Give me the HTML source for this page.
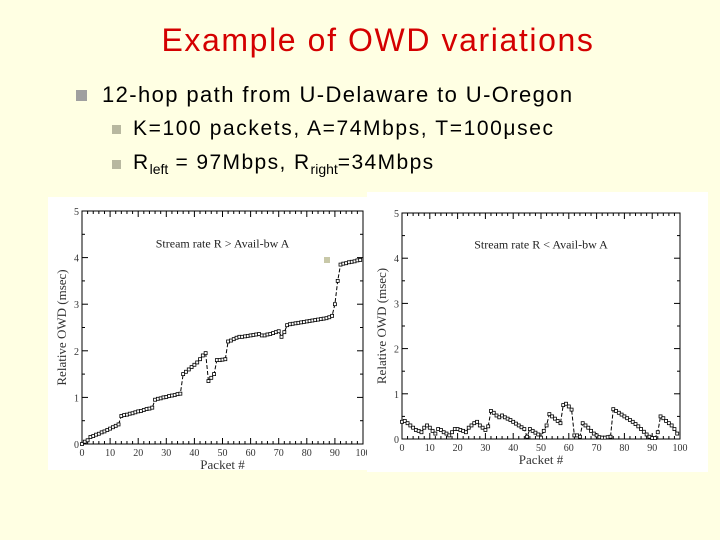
<!DOCTYPE html>
<html><head><meta charset="utf-8"><style>
body{margin:0;width:720px;height:540px;background:#FFFFE3;position:relative;overflow:hidden;font-family:"Liberation Sans",sans-serif}
.t{position:absolute;left:0;width:756px;text-align:center;top:22px;font-size:32px;letter-spacing:1.6px;color:#D40000}
.b{position:absolute;color:#000;font-size:22px;white-space:nowrap}
.sq{position:absolute;background:#A0A0A0}
svg{position:absolute;left:0;top:0}
</style></head><body>
<div class="t">Example of OWD variations</div>
<div class="sq" style="left:76px;top:90px;width:11px;height:11px"></div>
<div class="b" style="left:102px;top:82px;letter-spacing:1.4px">12-hop path from U-Delaware to U-Oregon</div>
<div class="sq" style="left:112px;top:125px;width:9px;height:9px;background:#B8B8A0"></div>
<div class="b" style="left:133px;top:117px;font-size:21px;letter-spacing:1.6px">K=100 packets, A=74Mbps, T=100μsec</div>
<div class="sq" style="left:112px;top:160px;width:9px;height:9px;background:#B8B8A0"></div>
<div class="b" style="left:133px;top:151px;font-size:21px;letter-spacing:1.4px">R<sub style="font-size:14px;letter-spacing:0">left</sub> = 97Mbps, R<sub style="font-size:14px;letter-spacing:0">right</sub>=34Mbps</div>
<svg id="s" width="720" height="540"></svg>
<script>
const packets=[...Array(100).keys()];
const leftOwd=[0,0.05,0.08,0.15,0.17,0.2,0.22,0.25,0.27,0.3,0.33,0.36,0.39,0.42,0.6,0.62,0.63,0.65,0.66,0.68,0.7,0.71,0.73,0.75,0.76,0.78,0.95,0.97,0.98,1.0,1.01,1.03,1.04,1.05,1.07,1.08,1.5,1.55,1.6,1.65,1.7,1.75,1.82,1.9,1.95,1.35,1.42,1.5,1.8,1.8,1.81,1.82,2.2,2.22,2.25,2.28,2.3,2.3,2.31,2.32,2.33,2.34,2.35,2.36,2.33,2.33,2.35,2.36,2.38,2.4,2.42,2.3,2.4,2.55,2.57,2.58,2.59,2.6,2.61,2.62,2.63,2.64,2.65,2.66,2.67,2.68,2.69,2.7,2.72,2.75,3.0,3.5,3.85,3.87,3.88,3.9,3.91,3.92,3.94,3.95];
const rightOwd=[0.38,0.4,0.35,0.3,0.25,0.2,0.18,0.15,0.25,0.3,0.25,0.18,0.12,0.22,0.2,0.15,0.12,0.08,0.15,0.22,0.22,0.2,0.18,0.15,0.25,0.3,0.35,0.38,0.3,0.25,0.2,0.28,0.62,0.58,0.52,0.48,0.52,0.48,0.45,0.42,0.38,0.34,0.3,0.26,0.22,0.05,0.22,0.18,0.14,0.1,0.03,0.18,0.3,0.55,0.5,0.45,0.4,0.35,0.75,0.78,0.72,0.65,0.08,0.08,0.05,0.35,0.3,0.25,0.18,0.12,0.08,0.04,0.03,0.03,0.04,0.05,0.66,0.62,0.58,0.54,0.5,0.46,0.42,0.38,0.33,0.28,0.22,0.16,0.1,0.05,0.02,0.02,0.15,0.5,0.46,0.4,0.35,0.3,0.22,0.12];
const xTicks=[0,10,20,30,40,50,60,70,80,90,100];
const yTicks=[0,1,2,3,4,5];
const NS="http://www.w3.org/2000/svg";
const svg=document.getElementById('s');
function mk(t,a,p){const e=document.createElementNS(NS,t);for(const k in a)e.setAttribute(k,a[k]);(p||svg).appendChild(e);return e;}
function chart(name,box,plot,data,label){
  const g=mk('g',{});
  
  
  const bg=mk('rect',{x:box[0],y:box[1],width:box[2],height:box[3],fill:'#fff'},g);
  
  
  const [x0,y0,x1,y1]=plot;
  const X=v=>x0+(v/100)*(x1-x0), Y=v=>y1-(v/5)*(y1-y0);
  const fr=mk('rect',{x:x0,y:y0,width:x1-x0,height:y1-y0,fill:'none',stroke:'#000','stroke-width':1},g);
  
  
  for(let v=0;v<=100;v+=2){const L=v%10===0?6:3;
    mk('line',{x1:X(v),x2:X(v),y1:y1,y2:y1-L,stroke:'#000'},g);
    mk('line',{x1:X(v),x2:X(v),y1:y0,y2:y0+L,stroke:'#000'},g);}
  for(let v=0;v<=5;v+=0.5){const L=v%1===0?6:3;
    mk('line',{x1:x0,x2:x0+L,y1:Y(v),y2:Y(v),stroke:'#000'},g);
    mk('line',{x1:x1,x2:x1-L,y1:Y(v),y2:Y(v),stroke:'#000'},g);}
  xTicks.forEach(v=>{const t=mk('text',{x:X(v),y:y1+12,'text-anchor':'middle','font-size':10,'font-family':'Liberation Serif,serif',fill:'#333'},g);t.textContent=v;
    
    });
  yTicks.forEach(v=>{const t=mk('text',{x:x0-3,y:Y(v)+4,'text-anchor':'end','font-size':10,'font-family':'Liberation Serif,serif',fill:'#333'},g);t.textContent=v;
    
    });
  const xt=mk('text',{x:(x0+x1)/2,y:y1+25,'text-anchor':'middle','font-size':13,'font-family':'Liberation Serif,serif',fill:'#333'},g);xt.textContent='Packet #';
  
  
  const yt=mk('text',{x:0,y:0,transform:`translate(${x0-16},${(y0+y1)/2}) rotate(-90)`,'text-anchor':'middle','font-size':13,'font-family':'Liberation Serif,serif',fill:'#333'},g);yt.textContent='Relative OWD (msec)';
  
  
  const an=mk('text',{x:X(50),y:Y(4.3)+4,'text-anchor':'middle','font-size':12,'font-family':'Liberation Serif,serif',fill:'#222'},g);an.textContent=label;
  
  
  const ln=mk('polyline',{points:packets.map(i=>X(i)+','+Y(data[i])).join(' '),fill:'none',stroke:'#000','stroke-width':1,'stroke-dasharray':'4,2'},g);
  
  
  packets.forEach(i=>{const r=mk('rect',{x:X(i)-1.5,y:Y(data[i])-1.5,width:3,height:3,fill:'#fff',stroke:'#000','stroke-width':0.8},g);
    
    });
}
chart('left-chart',[48,197,322,273],[82,211,363,444],leftOwd,'Stream rate R > Avail-bw A');
chart('right-chart',[367,192,341,280],[402,213,680,439],rightOwd,'Stream rate R < Avail-bw A');
const art=mk('rect',{x:324,y:257,width:6,height:6,fill:'#C8C8A8'});


</script>
</body></html>
